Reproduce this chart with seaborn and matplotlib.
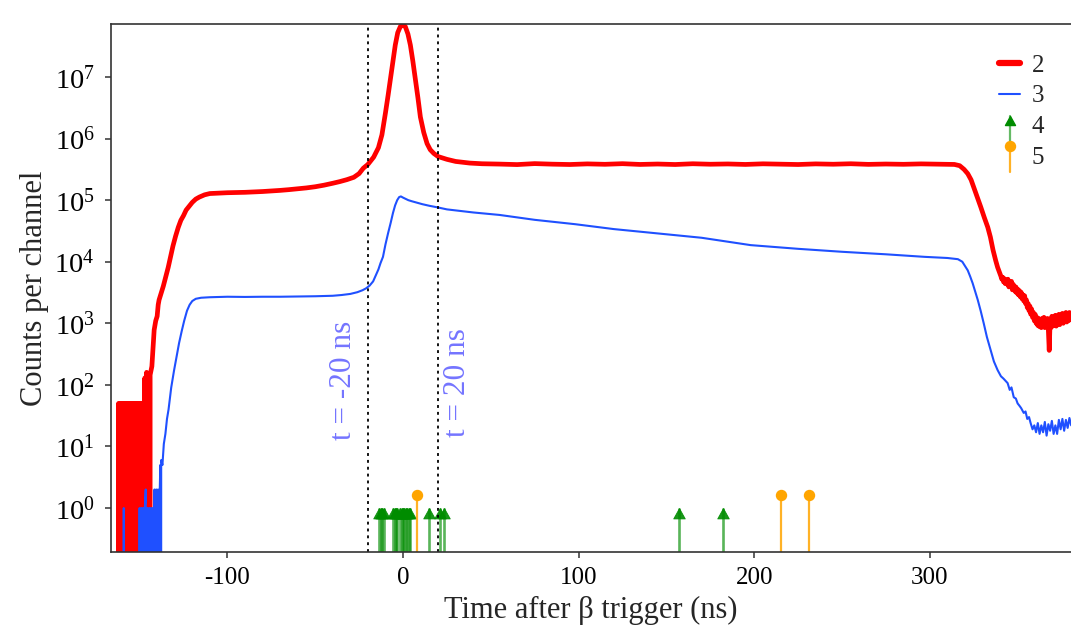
import numpy as np
import pandas as pd
import matplotlib
matplotlib.use("Agg")
import matplotlib.pyplot as plt
import seaborn as sns
from matplotlib.lines import Line2D
from matplotlib.path import Path
from matplotlib.ticker import NullLocator
from matplotlib.legend_handler import HandlerBase

# ---------------------------------------------------------------------------
# Data: time after beta trigger (ns) and counts per channel
# ---------------------------------------------------------------------------

# Series "2": low-statistics region (channels alternate between empty and filled)
red_low_t = [-162.5, -162.0, -161.5, -161.0, -160.5, -160.0, -159.5, -159.0,
             -158.5, -158.0, -157.5, -157.0, -156.5, -156.0, -155.5, -155.0,
             -154.5, -154.0, -153.5, -153.0, -152.5, -152.0, -151.5, -151.0,
             -150.5, -150.0, -149.5, -149.0, -148.5, -148.0, -147.5, -147.0,
             -146.5, -146.0, -145.5, -145.0, -144.5]
red_low_counts = [0, 50, 0, 50, 0, 50, 0, 50,
                  0, 50, 0, 50, 0, 50, 0, 50,
                  0, 50, 0, 50, 0, 50, 0, 50,
                  0, 50, 0, 50, 0, 50, 0, 130,
                  0, 160, 0, 150, 0]

# Series "2": rise, prompt peak and plateau
red_t = [-144.0, -143.0, -142.3, -141.7, -140.8, -140.0, -139.4, -138.9,
         -137.7, -136.5, -135.0, -133.7, -132.2, -131.0, -129.5, -128.0,
         -126.5, -125.0, -123.5, -122.0, -120.0, -118.0, -116.0, -113.0,
         -110.0, -105.0, -100.0, -95.0, -90.0, -85.0, -80.0, -75.0,
         -70.0, -65.0, -60.0, -55.0, -50.0, -45.0, -40.0, -36.0,
         -32.0, -28.0, -25.0, -22.6, -20.0, -16.7, -14.0, -12.0,
         -10.0, -8.5, -7.2, -5.8, -4.4, -3.0, -1.5, 0.0,
         1.3, 2.8, 4.2, 5.6, 7.0, 8.5, 9.9, 11.8,
         13.7, 15.5, 17.5, 20.0, 25.0, 30.0, 38.0, 45.0,
         55.0, 65.0, 75.0, 85.0, 95.0, 105.0, 115.0, 125.0,
         135.0, 145.0, 155.0, 165.0, 175.0, 185.0, 195.0, 205.0,
         215.0, 225.0, 235.0, 245.0, 255.0, 265.0, 275.0, 285.0,
         295.0, 305.0, 314.0, 317.0, 319.5, 321.6, 323.5, 325.0,
         327.0, 329.0, 331.0, 333.0, 334.5, 336.0, 337.5, 338.6]
red_counts = [145, 200, 420, 780, 1100, 1300, 2000, 2400,
              3100, 4000, 5800, 8100, 12500, 18000, 26000, 36000,
              47000, 56000, 69000, 78000, 92000, 104000, 112000, 122000,
              128000, 130000, 132000, 133000, 134000, 136000, 138000, 141000,
              144000, 148000, 153000, 158000, 165000, 175000, 188000, 200000,
              215000, 235000, 270000, 330000, 380000, 500000, 710000, 1150000,
              2.6e6, 5.0e6, 9.1e6, 1.78e7, 3.3e7, 5.25e7, 6.6e7, 6.9e7,
              6.6e7, 5.0e7, 3.3e7, 1.82e7, 9.5e6, 4.6e6, 2.24e6, 1.26e6,
              830000, 660000, 575000, 510000, 460000, 425000, 400000, 390000,
              385000, 378000, 392000, 384000, 379000, 388000, 382000, 391000,
              380000, 386000, 379000, 390000, 383000, 387000, 380000, 389000,
              384000, 379000, 388000, 383000, 390000, 381000, 386000, 382000,
              388000, 383000, 380000, 363000, 316000, 269000, 214000, 162000,
              112000, 77600, 52500, 36300, 25100, 15500, 10500, 8130]

# Series "2": noisy tail after the plateau
red_tail_t = [340.0, 340.5, 341.0, 341.5, 342.0, 342.5, 343.0, 343.5,
              344.0, 344.5, 345.0, 345.5, 346.0, 346.5, 347.0, 347.5,
              348.0, 348.5, 349.0, 349.5, 350.0, 350.5, 351.0, 351.5,
              352.0, 352.5, 353.0, 353.5, 354.0, 354.5, 355.0, 355.5,
              356.0, 356.5, 357.0, 357.5, 358.0, 358.5, 359.0, 359.5,
              360.0, 360.5, 361.0, 361.5, 362.0, 362.5, 363.0, 363.5,
              364.0, 364.5, 365.0, 365.5, 366.0, 366.5, 367.0, 367.5,
              368.0, 368.5, 369.0, 369.5, 370.0, 370.5, 371.0, 371.5,
              372.0, 372.5, 373.0, 373.5, 374.0, 374.5, 375.0, 375.5,
              376.0, 376.5, 377.0, 377.5, 378.0, 378.5, 379.0, 379.5,
              380.0, 380.5, 381.0]
red_tail_counts = [6310, 5800, 5200, 5600, 4700, 5300, 4400, 5000,
                   4300, 5200, 3900, 4600, 4100, 4800, 3500, 4300,
                   3800, 3300, 3900, 3100, 3600, 2900, 3400, 2700,
                   3200, 2500, 2900, 2300, 2800, 2100, 2400, 1800,
                   2100, 1600, 1900, 1400, 1700, 1250, 1500, 1100,
                   1400, 1000, 1250, 920, 1200, 880, 1150, 850,
                   1200, 900, 1250, 850, 1150, 950, 1200, 800,
                   363, 1100, 850, 1300, 900, 1200, 950, 1350,
                   900, 1250, 1000, 1400, 950, 1300, 1050, 1450,
                   1000, 1350, 1100, 1500, 1050, 1400, 1100, 1500,
                   1150, 1400, 1200]

# Series "3": low-statistics region
blue_low_t = [-159.5, -159.0, -158.5, -150.5, -150.0, -149.5, -149.0, -148.5,
              -148.0, -147.5, -147.0, -146.5, -146.0, -145.5, -145.0, -144.5,
              -144.0, -143.5, -143.0, -142.5, -142.0, -141.5, -141.0, -140.5,
              -140.0, -139.5, -139.0, -138.5, -138.2, -138.0]
blue_low_counts = [0, 1, 0, 0, 1, 0, 1, 0,
                   1, 0, 1, 2, 0, 1, 0, 1,
                   0, 1, 0, 1, 0, 2, 0, 2,
                   0, 2, 0, 2, 5, 0]

# Series "3": main spectrum
blue_t = [-137.7, -137.0, -136.2, -135.3, -134.4, -133.5, -132.0, -130.4,
          -129.0, -127.5, -126.0, -124.6, -123.0, -121.5, -120.0, -118.0,
          -115.0, -110.0, -100.0, -90.0, -80.0, -70.0, -60.0, -50.0,
          -40.0, -35.0, -30.0, -26.0, -23.0, -21.0, -19.0, -17.0,
          -15.5, -14.0, -12.8, -11.4, -10.0, -8.5, -7.0, -5.7,
          -4.5, -3.3, -2.2, -1.2, 0.0, 1.5, 3.0, 5.0,
          8.0, 11.0, 15.0, 20.0, 25.0, 40.0, 55.0, 75.0,
          98.0, 120.0, 145.0, 170.0, 198.0, 225.0, 250.0, 275.0,
          297.0, 310.0, 316.0, 318.5, 321.6, 323.0, 324.4, 326.0,
          327.3, 329.0, 330.7, 332.5, 334.7, 336.5, 338.6, 340.5,
          342.0, 344.3, 345.5, 346.5, 347.8, 349.0, 350.0, 351.0,
          352.0, 353.5, 354.5, 355.5, 356.5, 357.4, 358.5, 359.5,
          360.5, 361.5, 362.5, 363.5, 364.5, 365.5, 366.5, 367.5,
          368.5, 369.5, 370.5, 371.5, 372.5, 373.5, 374.5, 375.5,
          376.5, 377.5, 378.5, 379.5, 380.5]
blue_counts = [6, 5, 11, 16, 28, 40, 90, 170,
               280, 480, 750, 1100, 1600, 2000, 2300, 2500,
               2600, 2650, 2700, 2680, 2700, 2700, 2720, 2750,
               2800, 2880, 3000, 3200, 3450, 3700, 4100, 4800,
               6000, 7500, 9500, 12000, 19000, 29000, 43000, 62000,
               82000, 100000, 112000, 115000, 110000, 105000, 100000, 96000,
               91000, 86000, 81000, 76000, 70800, 63100, 57500, 47900,
               40700, 33900, 28800, 24500, 18600, 16200, 14500, 13200,
               12000, 11500, 11000, 10000, 7240, 5750, 4470, 3160,
               2400, 1580, 1000, 600, 363, 240, 174, 138,
               126, 107, 83, 91, 63, 60, 50, 46,
               42, 35, 37, 28, 30, 24, 19, 22,
               17, 24, 16, 22, 17, 25, 15, 23,
               18, 26, 16, 22, 16, 27, 19, 28,
               18, 27, 20, 29, 22]

# Series "4": single events (arrows)
arrow_t = [-13.4, -12.6, -11.8, -11.0, -5.6, -4.8, -4.0, -3.2,
           -1.6, -0.8, 0.0, 0.8, 1.6, 2.4, 3.2, 4.0,
           14.6, 20.9, 23.2, 157.3, 182.2]
arrow_counts = [1] * len(arrow_t)

# Series "5": single events (lollipops)
dot_t = [8.0, 215.4, 231.1]
dot_counts = [1.6, 1.6, 1.6]

# Time-window markers
window_t = [-20, 20]
window_labels = ["t = -20 ns", "t = 20 ns"]

series_labels = ["2", "3", "4", "5"]
xticks = [-100, 0, 100, 200, 300]
ytick_exp = [0, 1, 2, 3, 4, 5, 6, 7]

RED = "#ff0000"
BLUE = "#1f50ff"
GREEN = "#008c00"
ORANGE = "#ffa500"
LABEL_BLUE = "#7474ff"

# ---------------------------------------------------------------------------
# Style
# ---------------------------------------------------------------------------
sns.set_theme(style="ticks")
plt.rcParams["font.family"] = ["Liberation Serif", "DejaVu Serif"]
plt.rcParams["mathtext.fontset"] = "custom"
plt.rcParams["mathtext.rm"] = "Liberation Serif"
plt.rcParams["mathtext.it"] = "Liberation Serif:italic"
plt.rcParams["axes.unicode_minus"] = False

fig = plt.figure(figsize=(10.71, 6.29), dpi=100)
ax = fig.add_axes([0.1041, 0.1224, 0.8959, 0.8394])

red_df = pd.DataFrame({"t": red_low_t + red_t + red_tail_t,
                       "counts": red_low_counts + red_counts + red_tail_counts})
blue_df = pd.DataFrame({"t": blue_low_t + blue_t,
                        "counts": blue_low_counts + blue_counts})

# Draw the spectra on a linear axis first so empty channels are kept,
# then switch to log (empty channels are clipped below the frame).
sns.lineplot(data=red_df, x="t", y="counts", ax=ax, color=RED, lw=3.4,
             estimator=None, sort=False, legend=False)
sns.lineplot(data=blue_df, x="t", y="counts", ax=ax, color=BLUE, lw=1.5,
             estimator=None, sort=False, legend=False)
ax.set_yscale("log")

ymin, ymax = 10 ** -0.714, 10 ** 7.86
ax.set_ylim(ymin, ymax)
ax.set_xlim(-166.0, 380.4)

# Arrow events: stem plus a triangular head whose tip sits on the value
head = Path([(0, 0), (-0.5, -0.9), (0.5, -0.9), (0, 0)],
            [Path.MOVETO, Path.LINETO, Path.LINETO, Path.CLOSEPOLY])
ax.vlines(arrow_t, ymin * 0.5, arrow_counts, color=GREEN, lw=1.9, alpha=0.65)
ax.plot(arrow_t, arrow_counts, ls="none", marker=head, ms=15,
        color=GREEN, mec=GREEN, mew=0.6, alpha=0.9)

# Lollipop events
ax.vlines(dot_t, ymin * 0.5, dot_counts, color=ORANGE, lw=1.6, alpha=0.85)
ax.plot(dot_t, dot_counts, ls="none", marker="o", ms=7.2,
        color=ORANGE, mec=ORANGE)

# Time window
for wt in window_t:
    ax.axvline(wt, color="black", lw=1.3, ls=(0, (1.6, 2.2)))
ax.text(-34, 10 ** 2.08, window_labels[0], rotation=90, ha="center",
        va="center", color=LABEL_BLUE, fontsize=22.5)
ax.text(31, 10 ** 2.04, window_labels[1], rotation=90, ha="center",
        va="center", color=LABEL_BLUE, fontsize=22.5)

# Axes cosmetics
ax.set_xticks(xticks)
ax.set_xticklabels([str(v) for v in xticks])
ax.set_yticks([10.0 ** e for e in ytick_exp])
ax.set_yticklabels([f"$10^{{{e}}}$" for e in ytick_exp])
ax.yaxis.set_minor_locator(NullLocator())
ax.tick_params(axis="both", direction="out", length=4, width=1.1,
               color="#333333", labelcolor="black")
ax.tick_params(axis="x", labelsize=18, pad=7)
ax.tick_params(axis="y", labelsize=20.5, pad=8)
for side in ("left", "bottom", "top"):
    ax.spines[side].set_visible(True)
    ax.spines[side].set_color("#333333")
    ax.spines[side].set_linewidth(1.2)
ax.spines["right"].set_visible(False)
ax.set_xlabel("Time after β trigger (ns)", fontsize=22, labelpad=5)
ax.set_ylabel("Counts per channel", fontsize=22, labelpad=4)
ax.grid(False)


# Legend with custom stem handles
class StemHandler(HandlerBase):
    def __init__(self, color, marker, ms, stem_alpha):
        super().__init__()
        self.color = color
        self.marker = marker
        self.ms = ms
        self.stem_alpha = stem_alpha

    def create_artists(self, legend, orig_handle, xdescent, ydescent,
                       width, height, fontsize, trans):
        cx = 0.5 * width - xdescent
        y0 = -ydescent - 0.45 * height
        y1 = -ydescent + 1.0 * height
        stem = Line2D([cx, cx], [y0, y1], color=self.color, lw=1.6,
                      alpha=self.stem_alpha, transform=trans)
        tip = Line2D([cx], [y1], ls="none", marker=self.marker, ms=self.ms,
                     color=self.color, mec=self.color, transform=trans)
        return [stem, tip]


h_red = Line2D([], [], color=RED, lw=4.5, solid_capstyle="round")
h_blue = Line2D([], [], color=BLUE, lw=1.5)
h_arrow = Line2D([], [], color=GREEN)
h_dot = Line2D([], [], color=ORANGE)
leg = ax.legend([h_red, h_blue, h_arrow, h_dot], series_labels,
                handler_map={h_arrow: StemHandler(GREEN, head, 13, 0.6),
                             h_dot: StemHandler(ORANGE, "o", 7.2, 0.85)},
                loc="upper left", bbox_to_anchor=(999 / 1071, 1 - 54 / 629),
                bbox_transform=fig.transFigure, frameon=False, fontsize=18,
                handlelength=0.85, handletextpad=0.45, labelspacing=0.33,
                borderpad=0.0, borderaxespad=0.0)

fig.savefig("out.png", dpi=100)
